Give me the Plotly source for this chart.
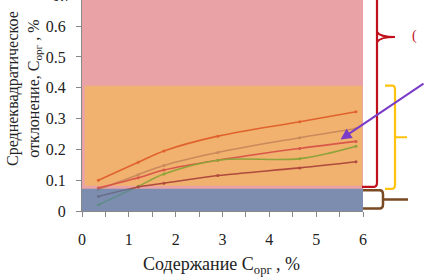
import plotly.graph_objects as go

# ---- data ----
x_vals = [0.35, 1.2, 1.75, 2.9, 4.65, 5.85]
series_1 = [0.100, 0.158, 0.195, 0.243, 0.290, 0.322]
series_2 = [0.070, 0.118, 0.148, 0.190, 0.238, 0.268]
series_3 = [0.075, 0.108, 0.133, 0.165, 0.203, 0.226]
series_4 = [0.020, 0.080, 0.120, 0.165, 0.170, 0.210]
series_5 = [0.047, 0.078, 0.090, 0.115, 0.140, 0.160]
series_colors = ["#E0622E", "#C98A5C", "#D8564A", "#8FA33A", "#B04A3E"]

# background bands (value ranges)
band_red = [0.0, 0.70]
band_orange = [0.082, 0.407]
band_blue = [0.0, 0.072]

x_ticks = [0, 1, 2, 3, 4, 5, 6]
y_ticks = [0, 0.1, 0.2, 0.3, 0.4, 0.5, 0.6]
YMAX = 0.685
XMAX = 6.0

FONT = "Liberation Serif, Times New Roman, serif"

fig = go.Figure()
for ys, col in zip([series_1, series_2, series_3, series_4, series_5], series_colors):
    fig.add_trace(go.Scatter(
        x=x_vals, y=ys, mode="lines+markers",
        line=dict(color=col, width=1.6, shape="spline", smoothing=1.0),
        marker=dict(color=col, size=3),
        showlegend=False, hoverinfo="skip"))

shapes = []
# orange band
shapes.append(dict(type="rect", xref="x", yref="y", x0=0.06, x1=5.98,
                   y0=band_orange[0], y1=band_orange[1],
                   fillcolor="#F0B26E", line=dict(width=0), layer="below"))
# blue band (overlay, semi-transparent over pink background)
shapes.append(dict(type="rect", xref="x", yref="y", x0=0, x1=XMAX,
                   y0=band_blue[0], y1=band_blue[1],
                   fillcolor="rgb(67,129,181)", opacity=0.65,
                   line=dict(width=0), layer="above"))


def py(v):
    return v / YMAX


def px_(p):
    # pixel x -> paper x
    return (p - 82) / 281.0


def pyp(p):
    # pixel y -> paper y
    return (211.0 - p) / 211.0


# red brace: from top down to orange bottom
xr = px_(377)
shapes.append(dict(type="path", xref="paper", yref="paper",
                   path=f"M {px_(362)},{py(band_orange[0])-0.005} L {xr-0.01},{py(band_orange[0])-0.005} "
                        f"Q {xr},{py(band_orange[0])-0.005} {xr},{py(band_orange[0])+0.015} L {xr},1.05",
                   line=dict(color="#C0101C", width=2.2)))
shapes.append(dict(type="path", xref="paper", yref="paper",
                   path=f"M {xr},{pyp(42)} Q {xr+0.01},{pyp(37)} {px_(395)},{pyp(37)} "
                        f"M {xr},{pyp(32)} Q {xr+0.01},{pyp(37)} {px_(395)},{pyp(37)}",
                   line=dict(color="#C0101C", width=2.2)))
# yellow brace over orange band
xy = px_(395)
yt, yb = py(band_orange[1] - 0.0), py(band_orange[0] - 0.01)
ym = (yt + yb) / 2
shapes.append(dict(type="path", xref="paper", yref="paper",
                   path=f"M {px_(385)},{yt} L {xy-0.01},{yt} Q {xy},{yt} {xy},{yt-0.02} "
                        f"L {xy},{yb+0.02} Q {xy},{yb} {xy-0.01},{yb} L {px_(385)},{yb} "
                        f"M {xy},{ym} L {px_(407)},{ym}",
                   line=dict(color="#FFC20E", width=2.2)))
# brown brace over blue band
xb = px_(383)
bt, bb = py(band_blue[1] - 0.005), py(0.008)
bm = (bt + bb) / 2
shapes.append(dict(type="path", xref="paper", yref="paper",
                   path=f"M {px_(363)},{bt} L {xb-0.012},{bt} Q {xb},{bt} {xb},{bt-0.02} "
                        f"L {xb},{bb+0.02} Q {xb},{bb} {xb-0.012},{bb} L {px_(363)},{bb} "
                        f"M {xb},{bm} L {px_(408)},{bm}",
                   line=dict(color="#7A4A22", width=2.5)))

annotations = [
    # purple arrow
    dict(xref="x", yref="y", x=5.52, y=0.232, ax=90, ay=-57, text="",
         showarrow=True, arrowhead=2, arrowsize=1.1, arrowwidth=2, arrowcolor="#7A3CC8"),
    # partial label at top right
    dict(xref="paper", yref="paper", x=px_(414), y=pyp(36), xanchor="center", yanchor="middle",
         text="(", showarrow=False, font=dict(family=FONT, size=14, color="#C0101C")),
    # cut top tick label
    dict(xref="paper", yref="paper", x=0, xshift=-8, xanchor="right", y=py(0.70), yanchor="middle",
         text="0.7", showarrow=False, font=dict(family=FONT, size=16, color="#222")),
    # y title
    dict(xref="paper", yref="paper", x=px_(24), y=pyp(89), textangle=-90,
         xanchor="center", yanchor="middle",
         text="Среднеквадратическое<br>отклонение, С<sub>орг</sub> , %",
         showarrow=False, font=dict(family=FONT, size=16, color="#222")),
    # x title
    dict(xref="paper", yref="paper", x=px_(221), y=pyp(265), xanchor="center", yanchor="middle",
         text="Содержание С<sub>орг</sub> , %",
         showarrow=False, font=dict(family=FONT, size=18, color="#222")),
]

fig.update_layout(
    width=425, height=279,
    margin=dict(l=82, r=62, t=0, b=68, autoexpand=False),
    paper_bgcolor="white",
    plot_bgcolor="#E9A3A6",
    shapes=shapes,
    annotations=annotations,
    font=dict(family=FONT, size=16, color="#222"),
    xaxis=dict(range=[0, XMAX], tickvals=x_ticks, ticks="outside", ticklen=5,
               tickcolor="#888", showline=True, linecolor="#888", linewidth=1,
               showgrid=False, zeroline=False, ticklabelstandoff=9,
               minor=dict(dtick=0.5, ticks="outside", ticklen=5, tickcolor="#888", showgrid=False),
               tickfont=dict(family=FONT, size=16, color="#222")),
    yaxis=dict(range=[0, YMAX], tickvals=y_ticks, ticktext=[str(v) for v in y_ticks],
               ticks="outside", ticklen=5, tickcolor="#888",
               showline=True, linecolor="#888", linewidth=1,
               showgrid=False, zeroline=False, ticklabelstandoff=7,
               tickfont=dict(family=FONT, size=16, color="#222")),
)

fig.write_html("out.html", config={"displayModeBar": False},
               post_script="document.body.style.margin='0';document.body.style.padding='0';")
